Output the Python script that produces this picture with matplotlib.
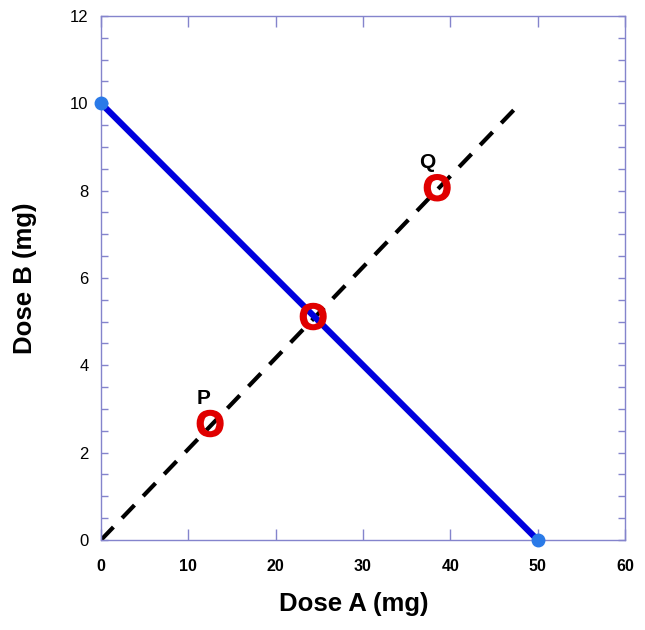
import matplotlib.pyplot as plt
import matplotlib.patheffects as pe
from matplotlib.ticker import MultipleLocator

plt.rcParams['font.family'] = ['Liberation Sans', 'DejaVu Sans']

# isobole (blue) and ray of fixed dose ratio (dashed)
iso_a = [0, 50]
iso_b = [10, 0]
ray_a = [0, 48]
ray_b = [0, 10]

# red "O" points on the ray
pt_a = [12.5, 24.3, 38.5]
pt_b = [2.6, 5.05, 8.0]
lab_text = ['P', 'Q']
lab_a = [11.7, 37.4]
lab_b = [3.25, 8.65]

frame = '#8484cc'

fig = plt.figure(figsize=[6.45, 6.3], dpi=100)
ax = fig.add_axes([0.1566, 0.1429, 0.8124, 0.8317])

ax.plot(ray_a, ray_b, color='black', lw=3, dashes=(4.3, 3), solid_capstyle='butt')
ax.plot(iso_a, iso_b, color='#0000dd', lw=4.5, zorder=3)
ax.plot(iso_a, iso_b, 'o', color='#2a7ae8', ms=9, zorder=4, clip_on=False)

for a, b in zip(pt_a, pt_b):
    ax.text(a, b, 'O', color='#e00000', fontsize=26, fontweight='bold',
            ha='center', va='center', zorder=5,
            path_effects=[pe.withStroke(linewidth=1.4, foreground='#e00000')])
for t, a, b in zip(lab_text, lab_a, lab_b):
    ax.text(a, b, t, color='black', fontsize=15, fontweight='bold',
            ha='center', va='center')

ax.set_xlim(0, 60)
ax.set_ylim(0, 12)
ax.xaxis.set_major_locator(MultipleLocator(10))
ax.yaxis.set_major_locator(MultipleLocator(2))
ax.yaxis.set_minor_locator(MultipleLocator(0.5))

ax.tick_params(axis='x', which='major', direction='in', length=8, width=1,
               color=frame, top=True, labelsize=11.5, pad=14)
ax.tick_params(axis='y', which='both', direction='in', length=5, width=1,
               color=frame, right=True, labelsize=12, pad=9)
for lbl in ax.get_xticklabels():
    lbl.set_fontweight('bold')

for s in ax.spines.values():
    s.set_color(frame)
    s.set_linewidth(1)

ax.set_xlabel('Dose A (mg)', fontsize=18.5, fontweight='bold')
ax.set_ylabel('Dose B (mg)', fontsize=18.5, fontweight='bold', labelpad=24)
ax.xaxis.set_label_coords(0.483, -0.1)

fig.savefig('out.png', dpi=100)
